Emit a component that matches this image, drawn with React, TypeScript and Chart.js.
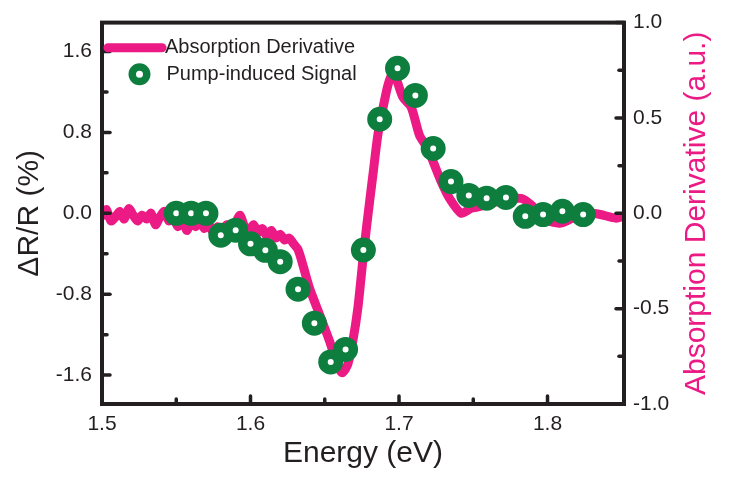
import React, { useEffect, useRef } from 'react';
import { Chart, registerables } from 'chart.js';

Chart.register(...registerables);

const PINK = '#EC1A85';
const GREEN = '#0E7E3E';
const INK = '#231F20';
const FONT = "'Liberation Sans', Arial, Helvetica, sans-serif";

// Absorption derivative (right axis, a.u.)
const derivEnergy = [
  1.501, 1.503, 1.506, 1.509, 1.512, 1.515, 1.518, 1.521, 1.524, 1.527, 1.530, 1.533,
  1.536, 1.539, 1.542, 1.545, 1.548, 1.551, 1.554, 1.557, 1.560, 1.563, 1.566, 1.569,
  1.572, 1.575, 1.578, 1.581, 1.584, 1.587, 1.590, 1.593, 1.596, 1.599, 1.602, 1.605,
  1.608, 1.611, 1.614, 1.617, 1.620, 1.623, 1.626, 1.629, 1.632,
  1.6352, 1.6397, 1.6465, 1.6532, 1.6588, 1.6618, 1.6655, 1.6689, 1.6723, 1.6756,
  1.6783, 1.6824, 1.6857, 1.6891, 1.6925, 1.6954, 1.6981, 1.7026, 1.7082, 1.7138,
  1.7194, 1.7239, 1.7284, 1.734, 1.7419, 1.7486, 1.7587, 1.7699, 1.7823, 1.789,
  1.7991, 1.8081, 1.817, 1.8305, 1.8463, 1.8505,
];
const derivValue = [
  -0.01, 0.02, -0.04, -0.02, 0.01, -0.03, 0.025, -0.01, -0.04, -0.01, -0.03, 0.0,
  -0.06, -0.02, 0.01, -0.04, -0.02, -0.07, -0.03, -0.09, -0.05, -0.07, -0.04, -0.08,
  -0.06, -0.1, -0.07, -0.09, -0.06, -0.1, -0.05, -0.01, -0.07, -0.09, -0.06, -0.1,
  -0.08, -0.12, -0.09, -0.13, -0.11, -0.14, -0.13, -0.16, -0.19,
  -0.269, -0.392, -0.531, -0.67, -0.801, -0.836, -0.792, -0.67, -0.496, -0.25,
  -0.061, 0.2, 0.409, 0.548, 0.67, 0.731, 0.705, 0.609, 0.557, 0.409,
  0.339, 0.253, 0.166, 0.078, 0.0, 0.026, 0.044, 0.07, 0.078, 0.044,
  -0.034, -0.052, -0.026, 0.0, -0.026, -0.017,
];

// Pump-induced signal (left axis, ΔR/R %)
const signalEnergy = [
  1.55, 1.56, 1.57, 1.58, 1.59, 1.60, 1.61, 1.62, 1.632, 1.643, 1.654, 1.664, 1.676,
  1.687, 1.699, 1.711, 1.723, 1.735, 1.747, 1.759, 1.772, 1.785, 1.797, 1.81, 1.824,
];
const signalValue = [
  0.0, 0.0, 0.0, -0.216, -0.167, -0.302, -0.366, -0.478, -0.75, -1.087, -1.47, -1.346, -0.363,
  0.93, 1.434, 1.166, 0.641, 0.314, 0.177, 0.15, 0.157, -0.03, -0.013, 0.02, -0.013,
];

const xTicks = [1.5, 1.6, 1.7, 1.8];
const xMinor = [1.55, 1.65, 1.75];
const leftTicks = [-1.6, -0.8, 0, 0.8, 1.6];
const leftMinor = [-1.2, -0.4, 0.4, 1.2];
const rightTicks = [-1, -0.5, 0, 0.5, 1];
const rightMinor = [-0.75, -0.25, 0.25, 0.75];

const legendLabels = ['Absorption Derivative', 'Pump-induced Signal'];

const framePlugin = {
  id: 'frameTicksLegend',
  afterDatasetsDraw(chart: any) {
    const { ctx, chartArea: a, scales } = chart;
    ctx.save();
    ctx.strokeStyle = INK;
    ctx.lineCap = 'round';
    const tick = (x1: number, y1: number, x2: number, y2: number) => {
      ctx.beginPath();
      ctx.moveTo(x1, y1);
      ctx.lineTo(x2, y2);
      ctx.stroke();
    };
    ctx.lineWidth = 3.5;
    const MAJ = 8;
    const MIN = 5;
    xTicks.forEach((v) => { const p = scales.x.getPixelForValue(v); tick(p, a.bottom, p, a.bottom - MAJ); });
    xMinor.forEach((v) => { const p = scales.x.getPixelForValue(v); tick(p, a.bottom, p, a.bottom - MIN); });
    leftTicks.forEach((v) => { const p = scales.y.getPixelForValue(v); tick(a.left, p, a.left + MAJ, p); });
    leftMinor.forEach((v) => { const p = scales.y.getPixelForValue(v); tick(a.left, p, a.left + MIN, p); });
    rightTicks.forEach((v) => { const p = scales.y1.getPixelForValue(v); tick(a.right, p, a.right - MAJ, p); });
    rightMinor.forEach((v) => { const p = scales.y1.getPixelForValue(v); tick(a.right, p, a.right - MIN, p); });
    ctx.lineCap = 'butt';
    ctx.lineWidth = 4;
    ctx.strokeRect(a.left, a.top, a.right - a.left, a.bottom - a.top);

    // legend
    ctx.lineCap = 'round';
    ctx.strokeStyle = PINK;
    ctx.lineWidth = 9;
    tick(a.left + 6, 47.7, a.left + 60, 47.7);
    ctx.beginPath();
    ctx.arc(a.left + 37.5, 74.3, 7.25, 0, Math.PI * 2);
    ctx.fillStyle = '#ffffff';
    ctx.fill();
    ctx.lineWidth = 7.5;
    ctx.strokeStyle = GREEN;
    ctx.stroke();
    ctx.fillStyle = INK;
    ctx.font = `20px ${FONT}`;
    ctx.textAlign = 'left';
    ctx.textBaseline = 'middle';
    ctx.fillText(legendLabels[0], a.left + 63, 47.7);
    ctx.fillText(legendLabels[1], a.left + 64.5, 74.3);

    // right axis title (reads bottom to top)
    ctx.translate(697, (a.top + a.bottom) / 2);
    ctx.rotate(-Math.PI / 2);
    ctx.fillStyle = PINK;
    ctx.font = `30px ${FONT}`;
    ctx.textAlign = 'center';
    ctx.fillText('Absorption Derivative (a.u.)', 0, 0);
    ctx.restore();
  },
};

export default function App() {
  const ref = useRef<HTMLCanvasElement | null>(null);
  useEffect(() => {
    if (!ref.current) return;
    const tickFont = { family: FONT, size: 21 };
    const noGrid = { display: false, drawTicks: false };
    const chart = new Chart(ref.current, {
      type: 'line',
      data: {
        datasets: [
          {
            label: legendLabels[1],
            data: signalEnergy.map((x, i) => ({ x, y: signalValue[i] })),
            yAxisID: 'y',
            showLine: false,
            pointRadius: 7.75,
            pointBorderWidth: 9.5,
            pointBackgroundColor: '#ffffff',
            pointBorderColor: GREEN,
            borderColor: GREEN,
          },
          {
            label: legendLabels[0],
            data: derivEnergy.map((x, i) => ({ x, y: derivValue[i] })),
            yAxisID: 'y1',
            borderColor: PINK,
            borderWidth: 9,
            pointRadius: 0,
            tension: 0.25,
            borderJoinStyle: 'round',
            borderCapStyle: 'round',
          },
        ],
      },
      options: {
        animation: false,
        responsive: false,
        devicePixelRatio: 1,
        events: [],
        layout: { padding: { top: 20, left: 0, right: 0, bottom: 0 } },
        plugins: { legend: { display: false }, tooltip: { enabled: false } },
        scales: {
          x: {
            type: 'linear',
            min: 1.5,
            max: 1.8515,
            grid: noGrid,
            border: { display: false },
            afterBuildTicks: (s: any) => { s.ticks = xTicks.map((value) => ({ value })); },
            afterFit: (s: any) => { s.height = 74; },
            ticks: {
              font: tickFont,
              color: INK,
              padding: 8,
              maxRotation: 0,
              autoSkip: false,
              callback: (v: any) => Number(v).toFixed(1),
            },
            title: {
              display: true,
              text: 'Energy (eV)',
              color: INK,
              font: { family: FONT, size: 30 },
              padding: { top: 0, bottom: 6.2 },
            },
          },
          y: {
            type: 'linear',
            position: 'left',
            min: -1.886,
            max: 1.886,
            grid: noGrid,
            border: { display: false },
            afterBuildTicks: (s: any) => { s.ticks = leftTicks.map((value) => ({ value })); },
            afterFit: (s: any) => { s.width = 102; },
            ticks: {
              font: tickFont,
              color: INK,
              padding: 10,
              autoSkip: false,
              callback: (v: any) => Number(v).toFixed(1),
            },
            title: {
              display: true,
              text: 'ΔR/R (%)',
              color: INK,
              font: { family: FONT, size: 30 },
              padding: { top: 12, bottom: 0 },
            },
          },
          y1: {
            type: 'linear',
            position: 'right',
            min: -1,
            max: 1,
            grid: noGrid,
            border: { display: false },
            afterBuildTicks: (s: any) => { s.ticks = rightTicks.map((value) => ({ value })); },
            afterFit: (s: any) => { s.width = 112; },
            ticks: {
              font: tickFont,
              color: INK,
              padding: 9,
              autoSkip: false,
              callback: (v: any) => Number(v).toFixed(1),
            },
          },
        },
      },
      plugins: [framePlugin],
    } as any);
    return () => chart.destroy();
  }, []);
  return (
    <div style={{ position: 'absolute', left: 0, top: 0, width: 736, height: 478, background: '#fff' }}>
      <canvas ref={ref} width={736} height={478} />
    </div>
  );
}
